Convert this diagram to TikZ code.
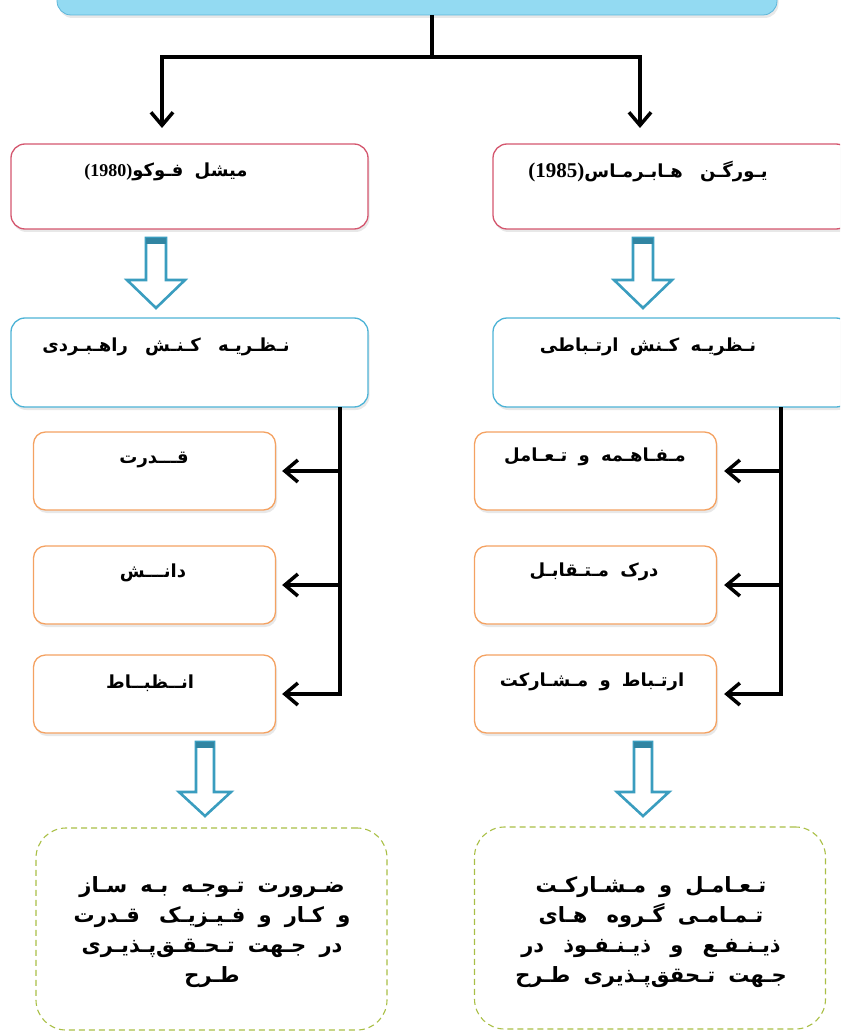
\documentclass[tikz,border=0pt]{standalone}
\usepackage{fontspec}
\usetikzlibrary{arrows.meta,shadows}
\newfontfamily\fa[Script=Arabic,WordSpace=1.8]{DejaVu Sans}
\newfontfamily\num{Liberation Serif}
\TeXXeTstate=1
\newcommand\fr[1]{{\fa\bfseries\beginR #1\endR}}
\newcommand\yr[2]{\beginL{\num\bfseries\fontsize{#1}{#1}\selectfont #2}\endL}
\newcommand\gap{\hspace{6pt}}
\definecolor{topfill}{HTML}{93DAF2}
\definecolor{topline}{HTML}{5DB6DA}
\definecolor{redline}{HTML}{D4566E}
\definecolor{blueline}{HTML}{4DB3D6}
\definecolor{orangeline}{HTML}{F4A262}
\definecolor{greenline}{HTML}{A9BF45}
\definecolor{arrc}{HTML}{3A9DBF}
% hollow arrow: name, x, ytop, stem length, head length, stem half width, head half width
\newcommand\harrow[7]{%
  \coordinate (#1) at (#2,#3);
  \draw[harr] (#1) ++(-#6,0) -- ++(0,#4) -- ++({-#7+#6},0) -- ++(#7,#5) -- ++(#7,-#5)
     -- ++({-#7+#6},0) -- ++(0,-#4) -- cycle;
  \fill[arrc!85!black] (#1) ++(-#6,0) rectangle ++({2*#6},6);
}
\begin{document}
\begin{tikzpicture}[x=1pt,y=-1pt,
  box/.style={rounded corners=14pt, fill=white, line width=1.3pt,
     drop shadow={shadow xshift=1.5pt, shadow yshift=-3pt, opacity=0.18}},
  topbox/.style={box, fill=topfill, draw=topline, line width=0.8pt, minimum width=720pt, minimum height=60pt},
  redbox/.style={box, draw=redline, minimum width=357pt, minimum height=85pt},
  bluebox/.style={box, draw=blueline, minimum width=357pt, minimum height=89pt},
  orbox/.style={box, rounded corners=12pt, draw=orangeline, minimum width=242pt, minimum height=78pt},
  grbox/.style={rounded corners=30pt, draw=greenline, line width=1.1pt, dash pattern=on 6pt off 4pt,
     minimum width=351pt, minimum height=202pt},
  txt/.style={inner sep=0pt, font=\fontsize{18}{21}\selectfont},
  btxt/.style={inner sep=0pt, align=center, font=\fontsize{21}{30}\selectfont},
  conn/.style={draw=black, line width=3.5pt, line join=miter},
  arr/.style={conn, -{Straight Barb[length=13pt,width=22pt]}},
  harr/.style={draw=arrc, line width=2.6pt, fill=white, line join=miter},
]
\useasboundingbox (0,0) rectangle (840,1032);
\clip (0,0) rectangle (840,1032);

% top box
\node[topbox] (top) at (417,-15) {};

% red boxes
\node[redbox] (redL) at (189.5,186.5) {};
\node[redbox] (redR) at (671.5,186.5) {};
\node[txt] (tRedL) at (166,172) {\fr{میشل فـوکو\yr{18}{(1980)}}};
\node[txt] (tRedR) at (648,172) {\fr{یـورگـن\gap{} هـابـرمـاس\yr{21}{(1985)}}};

% blue boxes
\node[bluebox] (blueL) at (189.5,362.5) {};
\node[bluebox] (blueR) at (671.5,362.5) {};
\node[txt] (tBlueL) at (166,347) {\fr{نـظـریـه\gap{} کـنـش\gap{} راهـبـردی}};
\node[txt] (tBlueR) at (648,347) {\fr{نـظریـه کـنش ارتـباطی}};

% orange boxes
\node[orbox] (oL1) at (154.5,471) {};
\node[orbox] (oL2) at (154.5,585) {};
\node[orbox] (oL3) at (154.5,694) {};
\node[orbox] (oR1) at (595.5,471) {};
\node[orbox] (oR2) at (595.5,585) {};
\node[orbox] (oR3) at (595.5,694) {};
\node[txt] (tL1) at (154,460) {\fr{قـــدرت}};
\node[txt] (tL2) at (153,573) {\fr{دانـــش}};
\node[txt] (tL3) at (150,683) {\fr{انــظبــاط}};
\node[txt] (tR1) at (595,457) {\fr{مـفـاهـمه و تـعـامل}};
\node[txt] (tR2) at (594,572) {\fr{درک مـتـقابـل}};
\node[txt] (tR3) at (592,682) {\fr{ارتـباط و مـشـارکت}};

% green dashed boxes
\node[grbox] (gL) at (211.5,929) {};
\node[grbox] (gR) at (650,928) {};
\node[btxt] (tgL) at (212,932) {\fr{ضـرورت تـوجـه بـه سـاز}\\\fr{و کـار و فـیـزیـک\gap{} قـدرت}\\\fr{در جـهت تـحـقـق‌پـذیـری}\\\fr{طـرح}};
\node[btxt] (tgR) at (651,932) {\fr{تـعـامـل و مـشـارکـت}\\\fr{تـمـامـی گـروه\gap{} هـای}\\\fr{ذیـنـفـع\gap{} و\gap{} ذیـنـفـوذ\gap{} در}\\\fr{جـهت تـحقق‌پـذیری طـرح}};

% top connectors
\coordinate (j) at (432,57);
\coordinate (aL) at (162,128);
\coordinate (aR) at (640,128);
\draw[conn] (top.south -| j) -- (j);
\draw[arr] (j) -| (aL);
\draw[arr] (j) -| (aR);

% hollow arrows
\harrow{hL1}{156}{238}{42}{28}{10}{29}
\harrow{hR1}{643}{238}{42}{28}{10}{29}
\harrow{hL2}{205}{742}{50}{24}{9}{26}
\harrow{hR2}{643}{742}{50}{24}{9}{26}

% brackets
\coordinate (bL) at (340,407);
\coordinate (bR) at (781,407);
\draw[arr, shorten >=6pt] (bL) -- (oL3.east -| bL) -- (oL3.east);
\draw[arr, shorten >=6pt] (oL1.east -| bL) -- (oL1.east);
\draw[arr, shorten >=6pt] (oL2.east -| bL) -- (oL2.east);
\draw[arr, shorten >=7pt] (bR) -- (oR3.east -| bR) -- (oR3.east);
\draw[arr, shorten >=7pt] (oR1.east -| bR) -- (oR1.east);
\draw[arr, shorten >=7pt] (oR2.east -| bR) -- (oR2.east);
\end{tikzpicture}
\end{document}
